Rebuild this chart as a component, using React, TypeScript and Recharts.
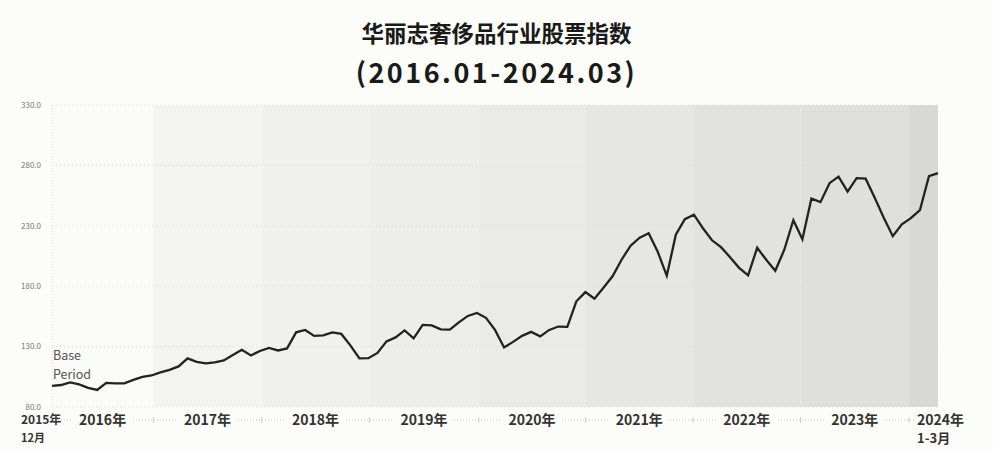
import { LineChart, Line, XAxis, YAxis, ReferenceArea, ReferenceLine } from 'recharts';

// index 0 = 2015-12 base period, last = 2024-03
const indexValues = [
    97.4, 98.2, 100.3, 98.7, 95.8, 94.1, 99.9, 99.5, 99.5, 102.4,
    104.9, 106.1, 108.6, 110.7, 113.6, 120.2, 117.3, 116.1, 116.9, 118.6,
    123.1, 127.3, 122.7, 126.4, 128.9, 126.8, 128.5, 141.8, 143.8, 138.9,
    139.3, 141.8, 140.5, 131.0, 120.2, 120.4, 124.8, 134.3, 137.6, 143.4,
    136.8, 148.0, 147.6, 144.3, 144.0, 150.1, 155.4, 157.9, 153.8, 143.8,
    129.3, 133.9, 138.9, 142.2, 138.5, 143.8, 146.6, 146.4, 167.5, 175.1,
    169.6, 178.7, 188.2, 201.9, 213.5, 220.1, 223.8, 208.5, 188.6, 222.6,
    235.5, 239.2, 228.0, 218.0, 212.3, 204.0, 195.2, 189.0, 211.8, 201.9,
    192.8, 210.2, 234.6, 218.9, 252.5, 249.6, 265.3, 270.7, 258.3, 269.5,
    269.0, 253.3, 236.7, 221.4, 231.3, 236.3, 242.9, 271.1, 273.6,
];

const yearNames = ['2016年', '2017年', '2018年', '2019年', '2020年', '2021年', '2022年', '2023年', '2024年'];
// where each year's shaded band starts / ends on the month index axis
const bandEdges = [0, 11.2, 23.2, 35.1, 47.2, 59.0, 70.9, 82.8, 94.8, 98];
const bandColors = ['#fafaf6', '#f3f3f0', '#f0f0ec', '#ededea', '#eaeae7', '#e6e6e2', '#e2e2de', '#dfdfdb', '#d8d8d4'];
const yTicks = [80, 130, 180, 230, 280, 330];

const data = indexValues.map((v, i) => ({ i, v }));
const lastIdx = indexValues.length - 1;

const labelTicks = [0, ...yearNames.slice(0, 8).map((_, k) => (bandEdges[k] + bandEdges[k + 1]) / 2), lastIdx];
const labelText = ['2015年|12月', ...yearNames.slice(0, 8), '2024年|1-3月'];
const boundaryTicks = bandEdges.slice(1, -1);

const FONT = '"Noto Sans CJK SC", "Noto Sans", sans-serif';
const BG = '#fcfcf8';

function YearTick(props: any) {
    const { x, y, payload } = props;
    const val = payload.value;
    const li = labelTicks.findIndex((t) => Math.abs(t - val) < 0.001);
    if (li < 0) {
        return <line x1={x} x2={x} y1={y - 3} y2={y + 3} stroke="#cfcfcb" strokeWidth={1} />;
    }
    const parts = labelText[li].split('|');
    if (parts.length > 1) {
        const first = li === 0;
        const tx = first ? x - 31 : x - 21;
        return (
            <g>
                <rect x={tx - 3} y={y - 8} width={first ? 40 : 56} height={16} fill={BG} />
                <text x={tx} y={y} dy="0.35em" textAnchor="start" fontSize={first ? 12 : 14} fontWeight={600} fill="#333" fontFamily={FONT}>
                    {parts[0]}
                </text>
                <text x={tx} y={y + 18} dy="0.35em" textAnchor="start" fontSize={first ? 11 : 13} fontWeight={600} fill="#333" fontFamily={FONT}>
                    {parts[1]}
                </text>
            </g>
        );
    }
    return (
        <g>
            <rect x={x - 30} y={y - 8} width={60} height={16} fill={BG} />
            <text x={x} y={y} dy="0.35em" textAnchor="middle" fontSize={14} fontWeight={600} fill="#333" fontFamily={FONT}>
                {parts[0]}
            </text>
        </g>
    );
}

export default function App() {
    return (
        <div style={{ position: 'absolute', left: 0, top: 0, width: 993, height: 451, background: BG, fontFamily: FONT }}>
            <div style={{ position: 'absolute', top: 16, width: 993, textAlign: 'center', fontSize: 22.5, fontWeight: 700, color: '#1a1a1a', lineHeight: '32px' }}>
                华丽志奢侈品行业股票指数
            </div>
            <div style={{ position: 'absolute', top: 55, width: 993, textAlign: 'center', fontSize: 27, letterSpacing: 2.5, fontWeight: 700, color: '#1a1a1a', lineHeight: '34px' }}>
                (2016.01-2024.03)
            </div>
            <LineChart width={993} height={451} data={data} margin={{ top: 105, right: 55, bottom: 0, left: 12 }}>
                {bandColors.map((c, k) => (
                    <ReferenceArea
                        key={`band-${k}`}
                        xAxisId="a"
                        x1={bandEdges[k]}
                        x2={bandEdges[k + 1]}
                        fill={c}
                        fillOpacity={1}
                        stroke="none"
                        ifOverflow="visible"
                    />
                ))}
                {yTicks.map((t) => (
                    <ReferenceLine key={`g-${t}`} xAxisId="a" y={t} stroke="#dcdcd8" strokeDasharray="1 3" />
                ))}
                <XAxis xAxisId="a" dataKey="i" type="number" domain={[0, lastIdx]} height={13} tick={false} axisLine={false} tickLine={false} />
                <XAxis
                    xAxisId="b"
                    dataKey="i"
                    type="number"
                    domain={[0, lastIdx]}
                    height={31}
                    ticks={[...labelTicks, ...boundaryTicks]}
                    interval={0}
                    tick={<YearTick />}
                    tickSize={0}
                    tickMargin={0}
                    tickLine={false}
                    axisLine={{ stroke: '#c4c4c0', strokeDasharray: '1 2' }}
                />
                <YAxis
                    domain={[80, 330]}
                    ticks={yTicks}
                    width={40}
                    tickLine={false}
                    tickMargin={5}
                    tickFormatter={(v: number) => v.toFixed(1)}
                    tick={{ fontSize: 8, fill: '#777', fontFamily: FONT }}
                    axisLine={{ stroke: '#dcdcd8', strokeDasharray: '1 2' }}
                />
                <Line
                    xAxisId="a"
                    type="linear"
                    dataKey="v"
                    stroke="#222"
                    strokeWidth={2.3}
                    dot={false}
                    isAnimationActive={false}
                />
            </LineChart>
            <div style={{ position: 'absolute', left: 53, top: 348, fontSize: 12.5, color: '#555', lineHeight: '14px' }}>Base</div>
            <div style={{ position: 'absolute', left: 53, top: 367, fontSize: 12.5, color: '#555', lineHeight: '14px' }}>Period</div>
        </div>
    );
}
